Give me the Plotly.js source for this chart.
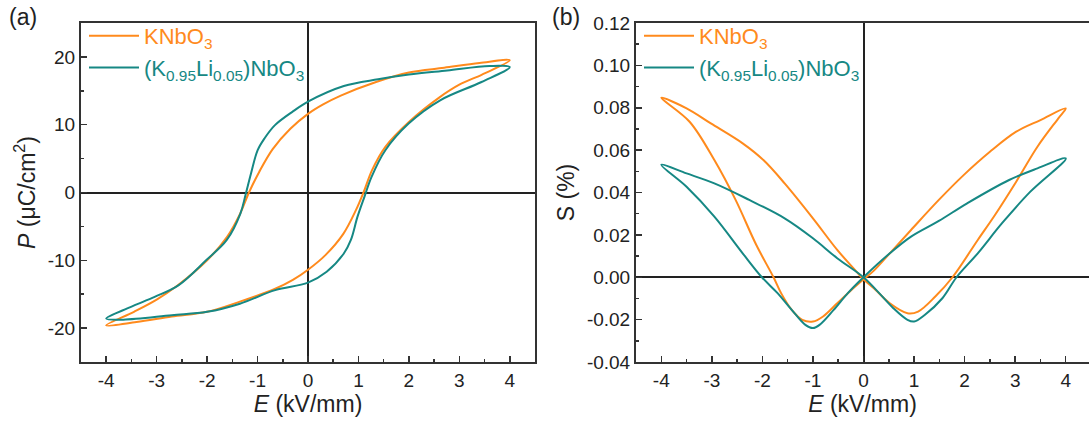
<!DOCTYPE html>
<html>
<head>
<meta charset="utf-8">
<script src="https://cdn.plot.ly/plotly-3.0.1.min.js"></script>
<style>html,body{margin:0;padding:0;background:#fff;}#chart{width:1089px;height:425px;}</style>
</head>
<body>
<div id="chart"></div>
<script>
// ---- Series names ----
const seriesNames = ['KNbO<sub>3</sub>', '(K<sub>0.95</sub>Li<sub>0.05</sub>)NbO<sub>3</sub>'];

// ---- (a) P-E loops: KNbO3 ----
const peE_KN = [-4.0,-3.4,-2.7,-2.0,-1.35,-0.65,-0.3,0.0,0.35,0.7,0.95,1.1,1.27,1.53,2.0,2.6,3.0,3.45,4.0,
                3.4,2.7,2.0,1.35,0.65,0.3,0.0,-0.35,-0.7,-0.97,-1.17,-1.35,-1.6,-2.0,-2.6,-3.0,-3.45,-4.0];
const peP_KN = [-19.6,-19.1,-18.3,-17.6,-16.1,-14.2,-12.9,-11.4,-9.2,-6.1,-2.6,0.0,3.3,6.7,10.4,14.0,15.9,17.4,19.5,
                19.1,18.4,17.7,16.3,14.3,13.0,11.6,9.4,6.4,3.0,0.0,-3.2,-6.5,-10.0,-13.8,-15.8,-17.6,-19.6];

// ---- (a) P-E loops: (K0.95Li0.05)NbO3 ----
const peE_KLN = [-4.0,-3.66,-2.7,-2.0,-1.35,-0.65,0.0,0.37,0.71,0.85,0.98,1.12,1.26,1.53,2.0,2.62,3.44,4.0,
                 3.6,2.76,2.0,1.39,0.71,0.0,-0.31,-0.66,-0.86,-1.0,-1.13,-1.24,-1.34,-1.61,-2.02,-2.57,-3.04,-3.52,-4.0];
const peP_KLN = [-18.6,-18.75,-18.1,-17.6,-16.4,-14.4,-13.3,-11.7,-9.0,-7.0,-3.6,-0.6,2.3,6.2,10.2,13.6,16.3,18.5,
                 18.65,18.0,17.4,16.7,15.7,13.4,11.9,9.9,8.0,6.2,2.8,-0.4,-3.1,-7.0,-10.0,-13.7,-15.4,-16.9,-18.6];

// ---- (b) S-E loops: KNbO3 ----
const seE_KN = [0.0,0.24,0.52,0.87,1.08,1.42,1.76,2.26,2.6,3.02,3.44,3.85,4.0,
                3.5,3.02,2.5,1.98,1.49,0.94,0.52,0.2,0.0,
                -0.24,-0.52,-0.8,-1.0,-1.21,-1.42,-1.63,-1.78,-2.12,-2.53,-2.95,-3.44,-4.0,
                -3.5,-3.02,-2.39,-1.98,-1.56,-1.0,-0.52,-0.17,0.0];
const seS_KN = [-0.001,-0.006,-0.0123,-0.017,-0.0162,-0.0091,0.0,0.0176,0.0294,0.0451,0.0616,0.0749,0.0797,
                0.0742,0.0687,0.0592,0.0482,0.0365,0.0223,0.0113,0.003,-0.001,
                -0.006,-0.0123,-0.0185,-0.0209,-0.0201,-0.0154,-0.0075,0.0,0.0152,0.0365,0.0553,0.0734,0.0847,
                0.0797,0.0726,0.0632,0.0553,0.0443,0.0278,0.0129,0.0035,-0.001];

// ---- (b) S-E loops: (K0.95Li0.05)NbO3 ----
const seE_KLN = [0.0,0.31,0.59,0.87,1.0,1.21,1.56,1.84,2.26,2.74,3.3,4.0,
                 3.44,2.88,2.05,1.49,0.94,0.52,0.0,
                 -0.31,-0.59,-0.87,-1.0,-1.15,-1.42,-1.7,-2.01,-2.39,-2.95,-3.5,-4.0,
                 -3.5,-2.95,-2.26,-1.56,-1.0,-0.52,0.0];
const seS_KLN = [0.0,-0.0075,-0.0146,-0.0201,-0.0209,-0.0178,-0.0099,0.0,0.0113,0.0255,0.0404,0.0561,
                 0.0514,0.0459,0.0349,0.0266,0.0192,0.0113,0.0,
                 -0.0075,-0.0154,-0.0225,-0.024,-0.0225,-0.0154,-0.0075,0.0,0.0113,0.0286,0.0427,0.0531,
                 0.049,0.0443,0.0365,0.0278,0.0184,0.009,0.0];

// ---- Tick labels ----
const xTickVals = [-4,-3,-2,-1,0,1,2,3,4];
const xTickText = ['-4','-3','-2','-1','0','1','2','3','4'];
const pTickVals = [-20,-10,0,10,20];
const pTickText = ['-20','-10','0','10','20'];
const sTickVals = [-0.04,-0.02,0,0.02,0.04,0.06,0.08,0.10,0.12];
const sTickText = ['-0.04','-0.02','0.00','0.02','0.04','0.06','0.08','0.10','0.12'];

const cOrange = '#FF8A1C';
const cTeal = '#168884';
const FONT = 'Liberation Sans, Arial, sans-serif';
const TICK_SIZE = 19, TITLE_SIZE = 23, LEGEND_SIZE = 22, PANEL_SIZE = 23;

function legendName(name, color) {
  return '<span style="color:' + color + '">' + name + '</span>';
}
const lineStyle = (c) => ({color: c, width: 2, shape: 'spline', smoothing: 1.0});

const traces = [
  {x: peE_KN, y: peP_KN, xaxis: 'x', yaxis: 'y', mode: 'lines', line: lineStyle(cOrange),
   name: legendName(seriesNames[0], cOrange), legend: 'legend', legendgroup: 'a1'},
  {x: peE_KLN, y: peP_KLN, xaxis: 'x', yaxis: 'y', mode: 'lines', line: lineStyle(cTeal),
   name: legendName(seriesNames[1], cTeal), legend: 'legend', legendgroup: 'a2'},
  {x: seE_KN, y: seS_KN, xaxis: 'x2', yaxis: 'y2', mode: 'lines', line: lineStyle(cOrange),
   name: legendName(seriesNames[0], cOrange), legend: 'legend2', legendgroup: 'b1'},
  {x: seE_KLN, y: seS_KLN, xaxis: 'x2', yaxis: 'y2', mode: 'lines', line: lineStyle(cTeal),
   name: legendName(seriesNames[1], cTeal), legend: 'legend2', legendgroup: 'b2'}
];

const W = 1089, H = 425;
const yDom = [1 - 362/H, 1 - 23/H];

const tickFont = {family: FONT, size: TICK_SIZE, color: '#222'};
const titleFont = {family: FONT, size: TITLE_SIZE, color: '#222'};

function axis(extra) {
  return Object.assign({
    showline: true, linecolor: '#333', linewidth: 2, mirror: true,
    ticks: 'inside', ticklen: 6, tickwidth: 1.5, tickcolor: '#333',
    showgrid: false, zeroline: true, zerolinecolor: '#222', zerolinewidth: 2,
    tickfont: tickFont, automargin: false
  }, extra);
}
const minorCommon = {ticks: 'inside', ticklen: 3, tickwidth: 1.5, tickcolor: '#333', tick0: 0};

const legendCommon = {
  bgcolor: 'rgba(0,0,0,0)', borderwidth: 0,
  font: {family: FONT, size: LEGEND_SIZE, color: '#222'},
  traceorder: 'grouped', tracegroupgap: 0, itemwidth: 50,
  xanchor: 'left', yanchor: 'top'
};

const layout = {
  width: W, height: H,
  margin: {l: 0, r: 0, t: 0, b: 0},
  paper_bgcolor: '#fff', plot_bgcolor: '#fff',
  font: {family: FONT, color: '#222', size: TICK_SIZE},
  showlegend: true,
  xaxis: axis({
    domain: [81/W, 535/W], range: [-4.5, 4.5], anchor: 'y',
    tickmode: 'array', tickvals: xTickVals, ticktext: xTickText,
    minor: Object.assign({}, minorCommon, {dtick: 0.5}),
    title: {text: '<i>E</i> (kV/mm)', font: titleFont, standoff: 4}
  }),
  yaxis: axis({
    domain: yDom, range: [-25, 25], anchor: 'x',
    tickmode: 'array', tickvals: pTickVals, ticktext: pTickText,
    minor: Object.assign({}, minorCommon, {dtick: 5}),
    title: {text: '<i>P</i> (μC/cm<sup>2</sup>)', font: titleFont, standoff: 6}
  }),
  xaxis2: axis({
    domain: [636/W, 1], range: [-4.5, 4.46], anchor: 'y2',
    tickmode: 'array', tickvals: xTickVals, ticktext: xTickText,
    minor: Object.assign({}, minorCommon, {dtick: 0.5}),
    title: {text: '<i>E</i> (kV/mm)', font: titleFont, standoff: 4}
  }),
  yaxis2: axis({
    domain: yDom, range: [-0.04, 0.12], anchor: 'x2', mirror: false,
    tickmode: 'array', tickvals: sTickVals, ticktext: sTickText,
    minor: Object.assign({}, minorCommon, {dtick: 0.01}),
    title: {text: 'S (%)', font: titleFont, standoff: 6}
  }),
  legend: Object.assign({}, legendCommon, {x: 84/W, y: 1 - 15/H}),
  legend2: Object.assign({}, legendCommon, {x: 639/W, y: 1 - 15/H}),
  annotations: [
    {text: '(a)', xref: 'paper', yref: 'paper', x: 7/W, y: 1 - 2/H, xanchor: 'left', yanchor: 'top',
     showarrow: false, font: {family: FONT, size: PANEL_SIZE, color: '#222'}},
    {text: '(b)', xref: 'paper', yref: 'paper', x: 550/W, y: 1 - 2/H, xanchor: 'left', yanchor: 'top',
     showarrow: false, font: {family: FONT, size: PANEL_SIZE, color: '#222'}}
  ]
};

Plotly.newPlot('chart', traces, layout, {staticPlot: true, displayModeBar: false});
</script>
</body>
</html>
